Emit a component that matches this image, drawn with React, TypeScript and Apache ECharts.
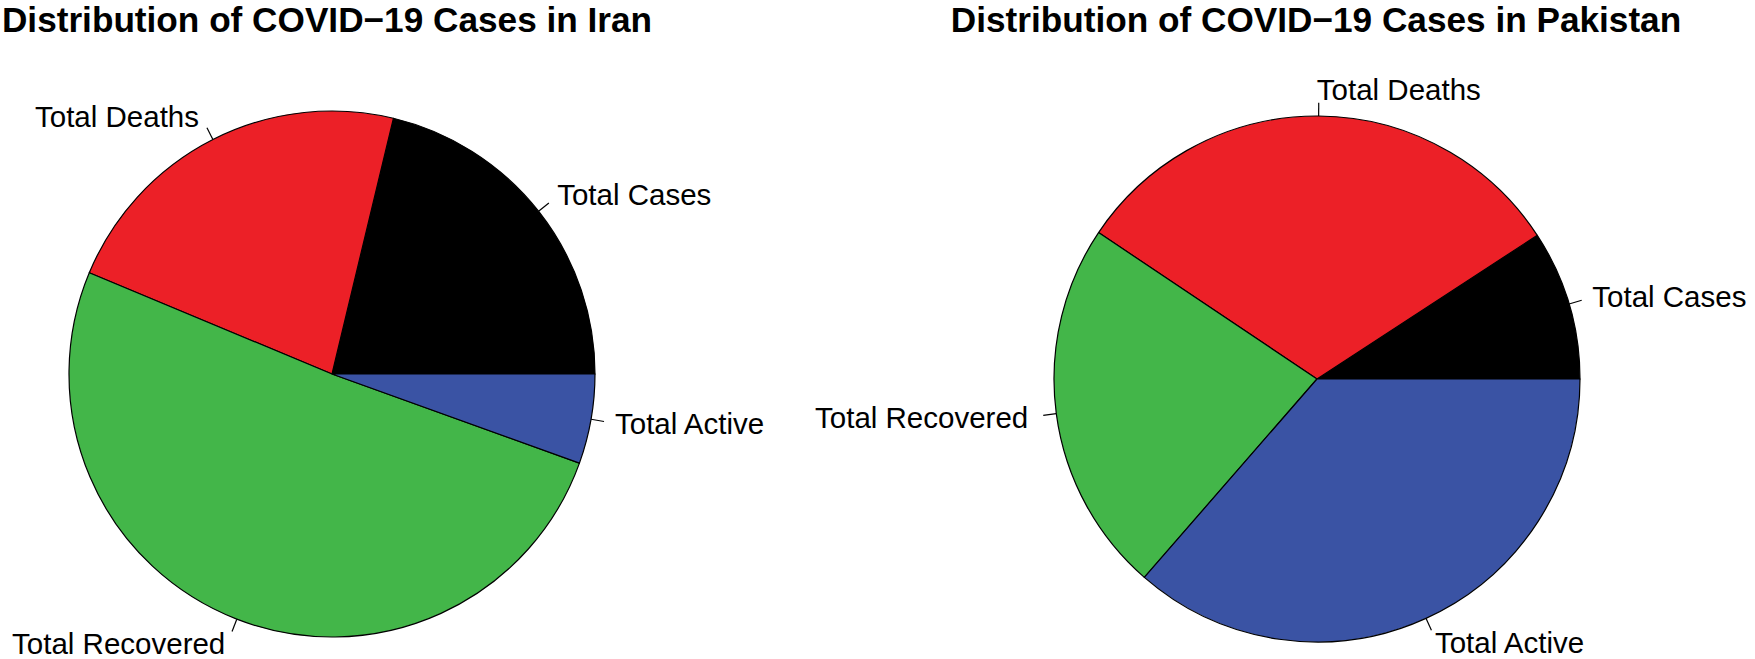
import React, { useEffect, useRef } from "react";
import * as echarts from "echarts";

const categories = ["Total Cases", "Total Deaths", "Total Recovered", "Total Active"];
const sliceColors = ["#000000", "#EC2027", "#43B649", "#3A53A4"];

// Shares (%)
const iranValues = [21.25, 22.46, 50.79, 5.5];
const pakistanValues = [9.2, 31.4, 23.0, 36.4];

const titles = [
  "Distribution of COVID\u221219 Cases in Iran",
  "Distribution of COVID\u221219 Cases in Pakistan",
];

const FONT = "'Liberation Sans', Arial, Helvetica, sans-serif";
const W = 1755;
const H = 659;
const R = 263;
const centers: [number, number][] = [
  [332, 374],
  [1317, 379],
];

export default function App() {
  const ref = useRef<HTMLDivElement>(null);

  useEffect(() => {
    if (!ref.current) return;
    const chart = echarts.init(ref.current, undefined, { renderer: "svg", width: W, height: H });

    const makeSeries = (values: number[], idx: number) => ({
      type: "pie",
      center: centers[idx],
      radius: R,
      startAngle: 0,
      clockwise: false,
      avoidLabelOverlap: false,
      silent: true,
      emphasis: { disabled: true },
      itemStyle: { borderColor: "#000", borderWidth: 1.2 },
      label: {
        show: true,
        position: "outside",
        formatter: "{b}",
        color: "#000",
        fontFamily: FONT,
        fontSize: 29.5,
        lineHeight: 26,
        distanceToLabelLine: 0,
      },
      labelLine: {
        show: true,
        length: 13,
        length2: 0,
        lineStyle: { color: "#000", width: 1.2 },
      },
      labelLayout: (params: any) => {
        const [cx, cy] = centers[idx];
        const pts = params.labelLinePoints;
        if (!pts || !pts[0]) return {};
        const dx = pts[0][0] - cx;
        const dy = pts[0][1] - cy;
        const len = Math.sqrt(dx * dx + dy * dy) || 1;
        const ux = dx / len;
        const uy = dy / len;
        return {
          x: cx + 1.1 * R * ux - 2,
          y: Math.min(cy + 1.1 * R * uy, H - 16),
          align: ux >= 0 ? "left" : "right",
          verticalAlign: "middle",
          labelLinePoints: [
            [cx + R * ux, cy + R * uy],
            [cx + 1.05 * R * ux, cy + 1.05 * R * uy],
            [cx + 1.05 * R * ux, cy + 1.05 * R * uy],
          ],
        };
      },
      data: categories.map((name, i) => ({
        name,
        value: values[i],
        itemStyle: { color: sliceColors[i] },
      })),
    });

    chart.setOption({
      animation: false,
      backgroundColor: "#ffffff",
      title: titles.map((t, i) => ({
        text: t,
        left: i === 0 ? 327 : 1316,
        top: 1,
        padding: 0,
        textAlign: "center",
        textStyle: {
          fontFamily: FONT,
          fontWeight: "bold",
          fontSize: 35.2,
          lineHeight: 36,
          color: "#000",
        },
      })),
      series: [makeSeries(iranValues, 0), makeSeries(pakistanValues, 1)],
    });

    return () => chart.dispose();
  }, []);

  return (
    <div
      ref={ref}
      style={{ position: "fixed", left: 0, top: 0, width: W, height: H, background: "#fff" }}
    />
  );
}
